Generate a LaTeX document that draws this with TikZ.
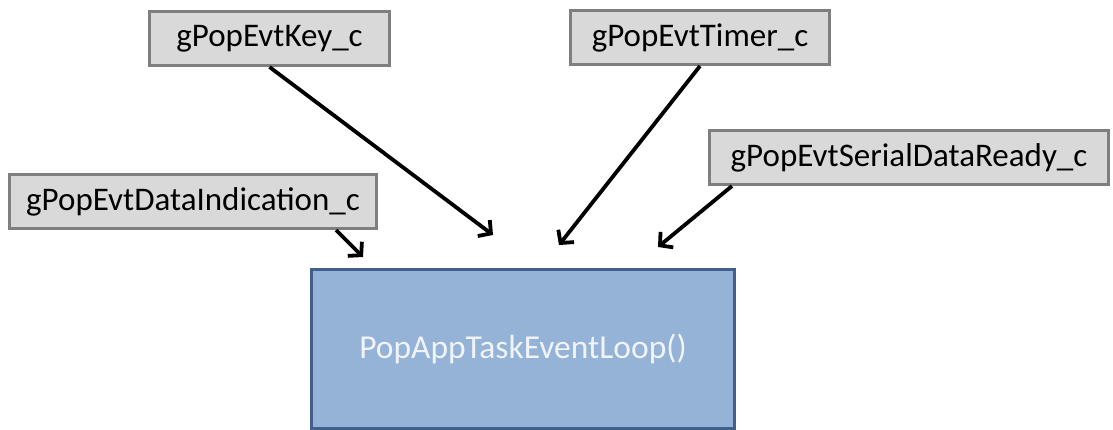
\documentclass[tikz,border=0pt]{standalone}
\usepackage{fontspec}
\setmainfont{Carlito}
\usetikzlibrary{arrows.meta}
\definecolor{evtgray}{HTML}{D9D9D9}
\definecolor{evtborder}{HTML}{7F7F7F}
\definecolor{loopblue}{HTML}{95B3D7}
\definecolor{loopborder}{HTML}{41618C}
\definecolor{looptext}{HTML}{F0F4FA}

\begin{document}
\begin{tikzpicture}[x=1pt, y=-1pt,
    evt/.style={draw=evtborder, fill=evtgray, line width=3pt, inner sep=0pt,
        minimum height=54pt, anchor=north west, font=\fontsize{33}{38}\selectfont},
    evtloop/.style={draw=loopborder, fill=loopblue, line width=3pt, inner sep=0pt,
        anchor=north west, text=looptext, font=\fontsize{33.5}{38}\selectfont},
    sig/.style={line width=3.8pt, -{Straight Barb[length=9pt, width=20pt, line width=3.8pt]}}]
    \useasboundingbox (0,0) rectangle (1113,430);
    \node[evt, minimum width=240pt] (key) at (148,10) {gPopEvtKey\_c};
    \node[evt, minimum width=259pt] (timer) at (569,9) {gPopEvtTimer\_c};
    \node[evt, minimum width=399pt] (serial) at (708,129) {gPopEvtSerialDataReady\_c};
    \node[evt, minimum width=367pt] (dataind) at (8,173) {gPopEvtDataIndication\_c};
    \node[evtloop, minimum width=423pt, minimum height=159pt] (loop) at (310,268) {PopAppTaskEventLoop()};
    \coordinate (keyTip) at (493,235);
    \coordinate (timerTip) at (559,245);
    \coordinate (serialTip) at (658,247);
    \coordinate (dataindTip) at (363,257);
    \draw[sig] (key.south) -- (keyTip);
    \draw[sig] (timer.south) -- (timerTip);
    \draw[sig] ([xshift=24pt]serial.south west) -- (serialTip);
    \draw[sig] ([xshift=-42pt]dataind.south east) -- (dataindTip);
\end{tikzpicture}
\end{document}
